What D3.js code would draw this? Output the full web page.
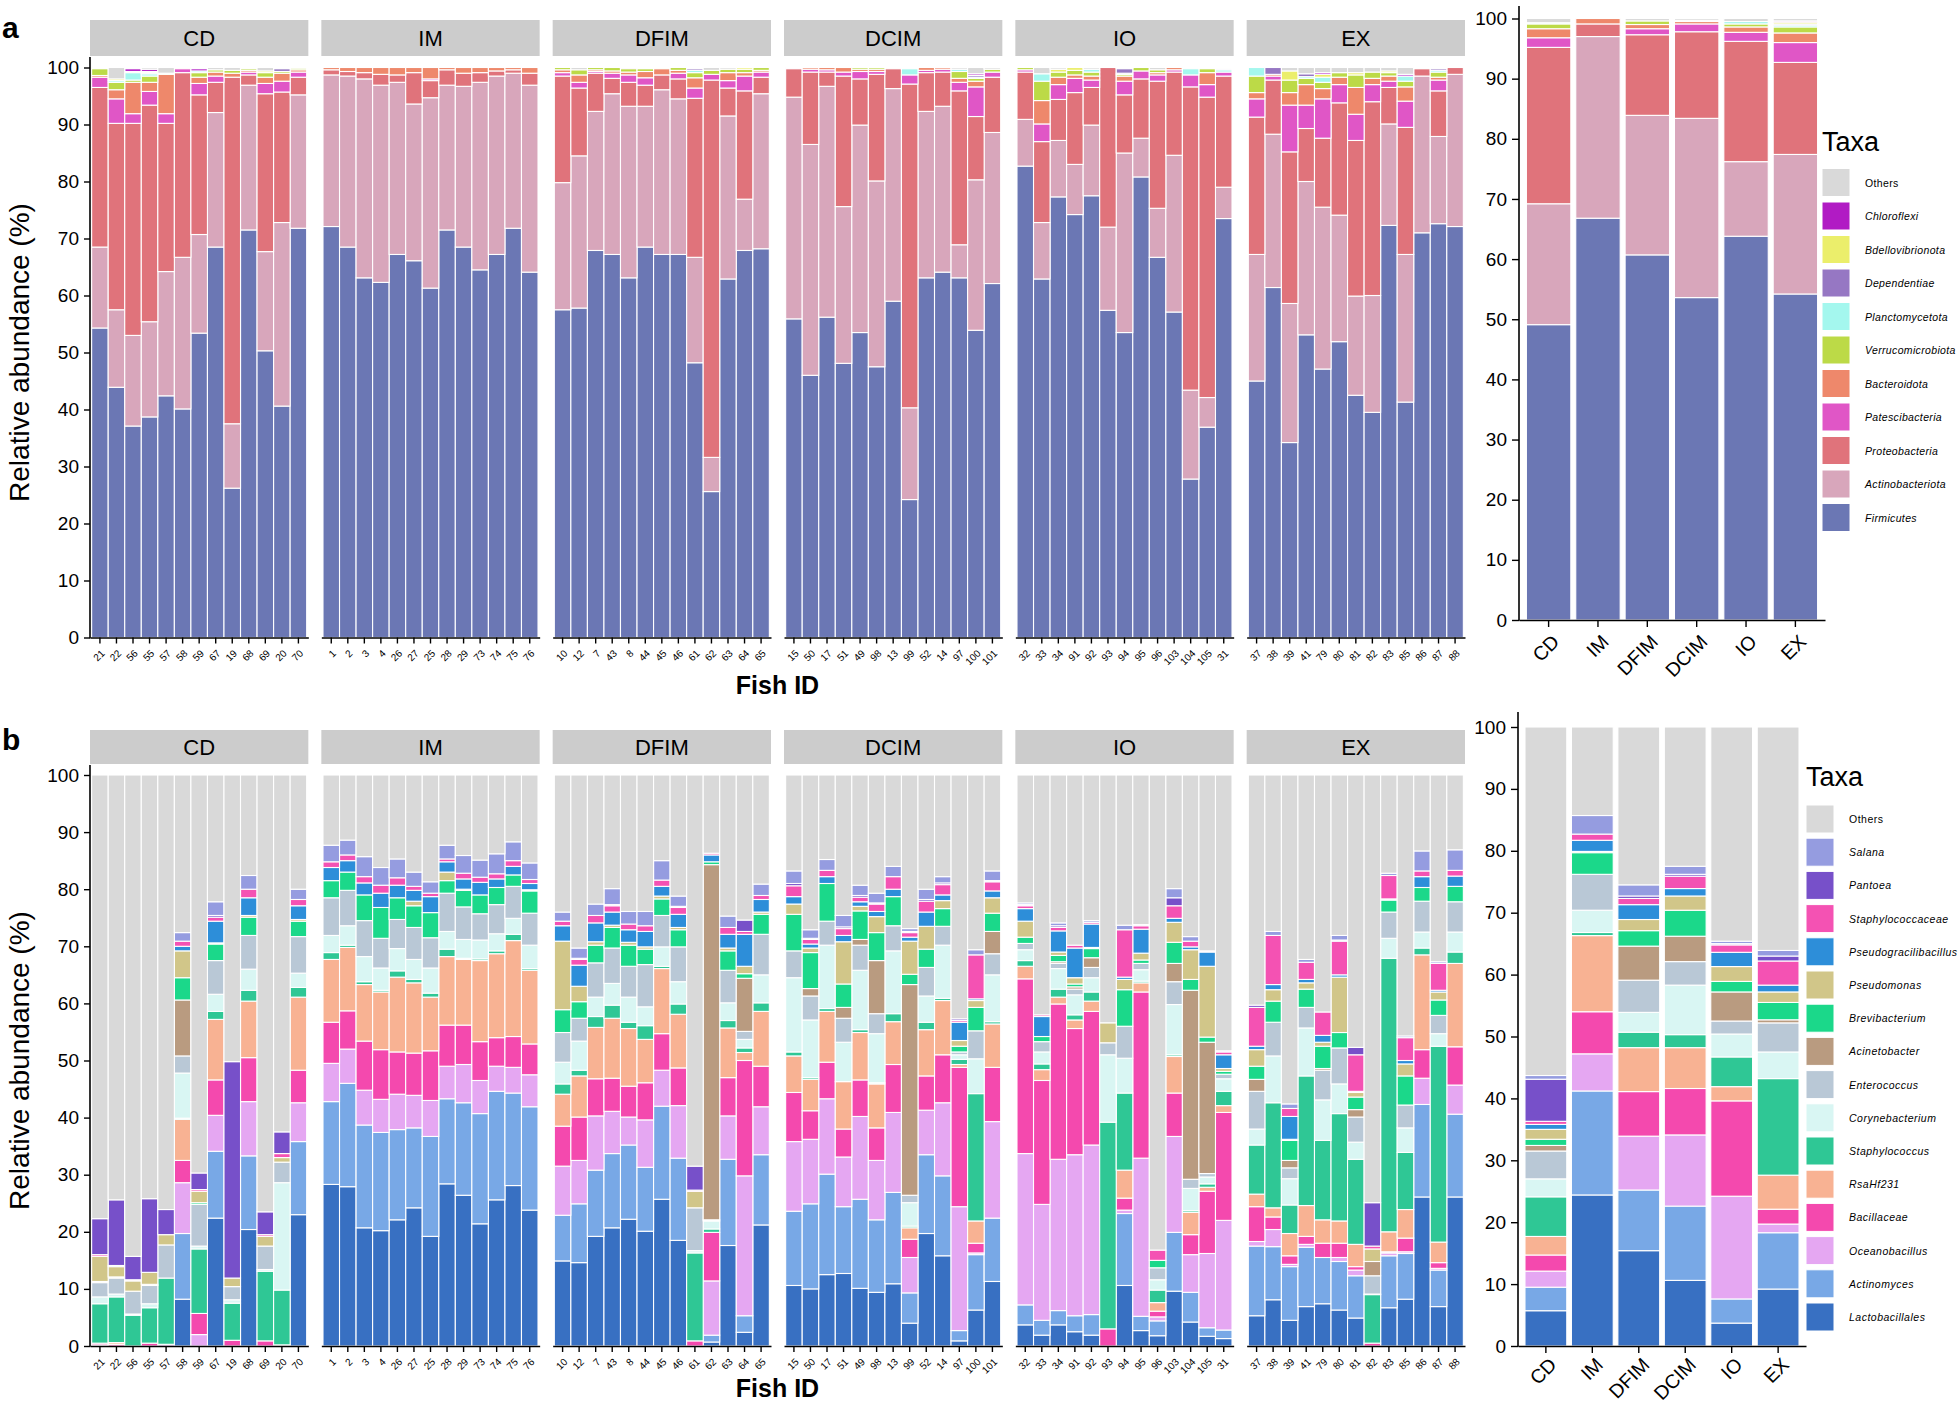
<!DOCTYPE html>
<html><head><meta charset="utf-8">
<script src="https://cdn.jsdelivr.net/npm/d3@7"></script>
<style>
body{margin:0;background:#fff;}
svg{display:block;}
text{font-family:"Liberation Sans",Arial,Helvetica,sans-serif;fill:#000;}
</style>
</head><body>
<svg id="chart" width="1959" height="1403"></svg>
<script>
// ---------------- DATA ----------------
const groups = ["CD","IM","DFIM","DCIM","IO","EX"];
const fishCD   = ["21","22","56","55","57","58","59","67","19","68","69","20","70"];
const fishIM   = ["1","2","3","4","26","27","25","28","29","73","74","75","76"];
const fishDFIM = ["10","12","7","43","8","44","45","46","61","62","63","64","65"];
const fishDCIM = ["15","50","17","51","49","98","13","99","52","14","97","100","101"];
const fishIO   = ["32","33","34","91","92","93","94","95","96","103","104","105","31"];
const fishEX   = ["37","38","39","41","79","80","81","82","83","85","86","87","88"];
const fishIds = [fishCD, fishIM, fishDFIM, fishDCIM, fishIO, fishEX];

// Phylum level (a): stacking order bottom -> top; "Others" = remainder to 100
const phyla = ["Firmicutes","Actinobacteriota","Proteobacteria","Patescibacteria","Bacteroidota",
  "Verrucomicrobiota","Planctomycetota","Dependentiae","Bdellovibrionota","Chloroflexi","Others"];
const phylaColors = ["#6b77b4","#d8a6bb","#e0737b","#e056c6","#ee886b",
  "#bcda47","#a4f7ee","#9677c3","#ebee6b","#b11bc4","#d9d9d9"];

const phylaCD = [
 [54.3,14.2,28.0,1.8,0.3,1.2],
 [43.9,13.6,32.7,4.3,1.6,1.3,0.3,0,0.3],
 [37.1,15.9,37.2,1.7,5.5,0.4,1.3,0,0.2,0.5],
 [38.7,16.7,38.0,2.4,1.6,1.1,0.4,0.2,0.2,0.4],
 [42.4,21.8,26.0,1.7,6.9,0.2],
 [40.1,26.6,32.4,0.7,0.2],
 [53.4,17.3,24.5,2.0,1.1,0.8,0.3,0,0,0.4],
 [68.5,23.6,5.3,1.1,0.7,0.4],
 [26.2,11.3,60.8,0,0.7,0.5],
 [71.5,25.4,1.8,0.5,0.3,0.3],
 [50.3,17.4,27.7,1.8,1.1,0.8,0,0,0.3],
 [40.6,32.2,22.9,1.9,1.4,0.3,0,0.5],
 [71.8,23.4,3.1,0.9,0.4,0.3]];
const phylaIM = [
 [72.1,26.6,0.9,0,0.4],[68.5,30.0,0.8,0,0.7],[63.1,34.9,1.1,0,0.9],[62.3,34.6,1.9,0,1.2],
 [67.2,30.2,1.3,0,1.3],[66.1,27.5,5.5,0,0.9],[61.3,33.4,3.0,0.3,2.0],[71.5,25.4,2.7,0,0.4],
 [68.5,28.2,2.3,0,1.0],[64.5,32.9,1.7,0,0.9],[67.2,31.3,0.9,0,0.6],[71.8,27.2,0.6,0,0.4],
 [64.1,32.8,2.1,0,1.0]];
const phylaDFIM = [
 [57.5,22.3,18.7,0.6,0.5,0.4],[57.8,26.7,11.9,1.0,1.3,0.9],[67.9,24.4,6.7,0.3,0.3,0.4],
 [67.2,28.2,2.7,0.9,0.4,0.6],[63.1,30.1,4.2,1.3,0.5,0.6,0,0,0,0.2],[68.5,24.7,3.7,1.3,1.1,0.5,0.2],
 [67.2,28.9,2.6,0,1.1,0.2],[67.2,27.3,3.5,1.0,0.5,0.5],[48.2,18.5,27.9,1.8,1.8,0.9,0.4,0.3],
 [25.6,6.0,66.2,1.0,0,0.7],[62.9,28.6,4.9,1.3,1.4,0.6],[67.9,9.0,19.0,2.6,0.6,0.6,0,0,0.3],
 [68.2,27.2,2.9,0.9,0.3,0.5]];
const phylaDCIM = [
 [55.9,38.9,5.0,0.2],[46.0,40.5,12.7,0.5,0.3],[56.2,40.5,2.5,0.4,0.4],[48.1,27.5,22.9,0.7,0.8],
 [53.5,36.4,8.1,1.3,0.4,0.3],[47.5,32.6,18.7,0.5,0.4,0.3],[59.0,37.3,3.5,0,0.2],
 [24.2,16.1,56.8,1.6,0,0,1.1],[63.1,29.2,6.8,0.4,0.5],[64.1,29.1,6.0,0.5,0.3],
 [63.1,5.8,27.0,1.5,0.7,1.2,0.4],[53.9,26.4,11.1,5.2,1.0,0.5,0.2,0.3,0,0.3],
 [62.1,26.5,9.7,0.9,0,0.5]];
const phylaIO = [
 [82.7,8.2,8.3,0.4,0,0.4],[62.9,9.9,14.2,3.1,4.1,3.4,1.3],[77.3,9.9,7.2,2.6,1.3,0.9,0,0,0.5],
 [74.2,8.8,12.6,2.5,0.6,0.8,0,0,0.5],[77.5,12.4,6.6,1.3,0.7,0.7,0.5],[57.4,14.6,28.0],
 [53.5,31.5,10.2,2.4,0.9,0.3,0.2,0.8],[80.8,6.8,10.4,1.4,0,0.6],[66.7,8.6,22.3,1.1,0.4,0.5],
 [57.1,27.5,14.6,0.4,0.4],[27.8,15.6,53.2,2.1,0,0,1.1],[36.9,5.2,52.7,2.2,2.1,0.7],
 [73.5,5.5,19.5,0.7,0,0,0.4,0.2]];
const phylaEX = [
 [45.0,22.2,24.1,3.2,1.1,2.9,1.5],[61.4,26.9,9.5,0.7,0.3,0,0,1.2],[34.2,24.4,26.6,8.2,2.2,2.2,0,0,1.6],
 [53.1,26.9,9.3,4.1,3.6,1.1,0.3,0.5],[47.1,28.4,12.1,6.9,1.8,1.1,0.9,0,0.5,0.3],
 [51.9,22.2,19.7,3.2,1.3,0.8],[42.5,17.4,27.3,4.6,4.7,2.2,0,0,0.4],[39.5,20.5,34.0,3.0,1.1,1.1],
 [72.3,17.8,6.4,1.1,0.9,0.6,0,0,0.3],[41.3,25.9,22.3,4.6,2.5,1.0,0.9,0,0,0.3],
 [71.0,27.5,1.3],[72.6,15.3,8.0,1.9,0.5,0.9,0.3,0.3],[72.1,26.7,1.2]];
const phylaGroupMean = [
 [49.1,20.1,26.0,1.6,1.5,0.8,0.2],[66.8,30.2,2.1,0,0.9],[60.7,23.2,13.4,1.0,0.7,0.6],
 [53.6,29.8,14.4,1.3,0.4,0.2],[63.8,12.4,20.0,1.5,0.9,0.5,0.4],
 [54.2,23.2,15.3,3.3,1.6,1.0,0.3,0.2,0.3,0.2]];
const phylaRows = [phylaCD, phylaIM, phylaDFIM, phylaDCIM, phylaIO, phylaEX];

// Genus level (b)
const genera = ["Lactobacillales","Actinomyces","Oceanobacillus","Bacillaceae","RsaHf231","Staphylococcus",
  "Corynebacterium","Enterococcus","Acinetobacter","Brevibacterium","Pseudomonas","Pseudogracilibacillus",
  "Staphylococcaceae","Pantoea","Salana","Others"];
const generaColors = ["#3870c2","#78a8e6","#e5a7f2","#f449ae","#f8b293","#2fc795",
  "#d9f6f3","#b9c8d6","#b99b80","#1bd88a","#d1c689","#2d8ed9",
  "#f452b3","#7750c9","#959ce0","#d9d9d9"];

const genusCD = [
 [0,0,0.2,0.3,0,6.9,1.2,2.5,0.2,0,4.4,0,0.3,6.3,0],
 [0,0,0,0.3,0.3,8.0,0.5,2.8,0.2,0,1.8,0.2,0,11.5,0],
 [0,0,0,0,0,5.4,0.2,4.0,0,0,1.8,0,0.2,4.1,0],
 [0,0,0,0.5,0,6.2,0.7,3.2,0.2,0,2.1,0,0,12.9,0],
 [0,0,0.3,0,0,11.6,0,5.8,0,0,1.8,0,0,4.4,0],
 [8.2,11.5,8.9,3.9,7.2,0.2,7.9,3.0,9.8,3.9,4.7,0.8,0.9,0,1.5],
 [0,0,2.0,3.7,0,11.3,0.5,7.3,0,0.3,2.0,0,0.3,2.9,0],
 [22.4,11.7,6.3,6.2,10.6,1.4,3.0,5.9,0,2.9,0.2,3.8,0.7,0.3,2.4],
 [0,0,0,1.0,0,6.5,0.6,2.3,0,0,1.5,0,0,37.9,0],
 [20.4,12.9,9.5,7.7,9.9,1.9,3.7,5.9,0,3.2,0.3,3.1,1.5,0,2.4],
 [0,0,0,0.9,0,12.2,0.3,4.1,0,0,1.7,0,0.3,4.0,0],
 [0,0,0,0.2,0,9.6,18.8,3.6,0,0,0.8,0,0.7,3.8,0],
 [23.0,12.8,6.8,5.7,12.8,1.7,2.5,6.4,0,2.7,0.3,2.4,1.1,0,1.8]];
const genusIM = [
 [28.3,14.5,6.7,7.2,11.0,1.2,3.0,6.6,0,3.0,0,2.3,1.0,0,2.9],
 [27.9,18.1,6.0,6.7,11.1,0.4,3.4,6.2,0,3.2,0,2.0,1.0,0,2.6],
 [20.7,18.0,6.1,8.6,9.9,0.5,4.4,6.3,0,4.5,0,2.1,1.1,0,3.5],
 [20.2,17.2,5.8,8.7,10.1,0.3,3.9,5.2,0,5.4,0,2.5,1.4,0,3.1],
 [22.1,15.8,6.2,7.4,13.1,1.1,3.9,5.1,0,3.8,0,2.2,1.3,0,3.3],
 [24.2,14.0,5.7,7.4,12.3,0.6,3.5,5.6,0,3.8,0.8,1.9,0.7,0,2.5],
 [19.2,17.5,6.3,8.7,9.4,0.7,4.4,5.3,0,4.4,0,2.8,0.6,0,2.0],
 [28.4,14.9,5.7,7.2,12.0,1.3,3.1,6.7,0,2.2,1.5,1.8,0.5,0,2.4],
 [26.4,16.2,6.7,6.9,11.5,0.2,3.3,5.7,0,2.9,0.2,1.8,1.0,0,3.1],
 [21.4,19.3,5.8,6.8,14.2,0.3,3.3,4.6,0,3.3,0,2.2,0.9,0,3.0],
 [25.6,19.0,4.4,5.0,14.7,0.5,3.0,5.1,0,3.0,0,1.5,0.9,0,3.5],
 [28.1,16.2,4.5,5.4,16.8,1.1,2.8,5.6,0,2.0,0,1.5,1.0,0,3.3],
 [23.8,18.1,5.6,5.4,12.9,0.3,4.1,5.6,0,3.9,0.2,1.1,0.7,0,2.9]];
const genusDFIM = [
 [14.9,8.0,8.6,7.0,5.6,1.8,3.8,5.2,0,4.0,12.0,2.7,0.8,0,1.6],
 [14.6,10.3,7.6,7.6,7.2,1.0,5.1,4.0,0,2.9,2.7,3.7,1.0,0.2,1.8],
 [19.2,11.6,9.5,6.5,9.0,1.9,3.4,6.0,0,3.1,0.6,3.3,1.3,0,2.0],
 [20.7,13.0,7.4,5.8,10.5,2.3,3.8,6.2,0,3.6,0.4,2.3,1.1,0.2,2.8],
 [22.2,13.0,4.9,5.4,10.1,1.1,4.4,5.4,0,3.7,0.5,2.2,1.0,0,2.2],
 [20.1,11.2,8.3,6.5,7.6,2.4,3.3,7.4,0,2.7,0.4,2.7,1.0,0,2.5],
 [25.7,16.3,6.3,6.4,11.4,0.4,3.4,5.5,0,2.9,0.5,1.7,1.1,0,3.4],
 [18.5,14.4,9.2,6.6,9.4,1.8,3.9,6.1,0,3.0,0.4,2.3,1.2,0.2,1.8],
 [0,0,0,0.9,0,15.4,0.4,7.5,0,0,2.9,0,0.2,4.2,0],
 [0.7,1.2,9.5,8.5,0,0.6,1.4,0.2,62.2,0.5,0,1.2,0.3,0,0],
 [17.6,15.1,7.6,6.7,8.7,1.3,3.1,5.7,0,3.4,0.5,2.4,1.2,0,2.0],
 [2.4,2.9,24.5,20.2,1.4,0.8,1.5,1.4,9.3,0.8,1.3,5.6,0.5,2.0,0],
 [21.2,12.3,8.4,7.1,9.6,1.5,4.9,7.1,0,3.5,0.4,2.2,0.7,0,2.0]];
const genusDCIM = [
 [10.6,13.0,12.2,8.6,6.4,0.7,13.0,4.7,0,6.4,1.8,1.3,1.9,0.4,2.2],
 [10.0,14.9,11.3,5.0,5.5,0.3,10.1,4.2,1.3,6.3,0.8,0.7,0.8,0.2,1.5],
 [12.5,17.6,13.2,6.4,8.9,0.5,11.1,4.2,0,6.6,0,1.2,1.1,0,1.9],
 [12.7,11.7,8.7,4.9,8.3,0,6.9,4.2,1.9,4.1,7.4,1.1,1.2,0.3,2.0],
 [10.1,15.6,14.5,6.4,8.3,0.5,10.4,4.4,1.0,5.0,0.8,0.8,0.8,0.3,1.8],
 [9.4,12.7,10.4,5.7,7.7,0.2,8.6,3.5,9.3,4.9,2.8,0.9,1.3,0.2,1.7],
 [10.9,16.0,14.0,8.4,7.5,1.4,11.0,4.4,0,5.1,0,1.3,2.2,0,1.8],
 [4.0,5.3,6.2,3.2,2.0,0.3,4.1,1.3,36.9,1.8,5.8,0.7,0.8,0.2,0.5],
 [19.7,13.8,7.8,6.0,8.1,1.3,4.6,5.0,0,3.2,4.0,2.5,1.9,0.3,1.8],
 [15.8,14.0,12.8,8.4,9.5,0.4,9.3,3.3,0,3.1,1.4,1.0,1.8,0.3,1.1],
 [0.9,1.8,21.7,24.4,0.5,0.9,0.8,0.5,0,1.0,1.0,3.2,0.3,0.3,0],
 [6.3,9.7,0.3,1.7,3.9,22.3,6.1,4.9,0,4.1,1.2,0.3,7.7,0,0.9],
 [11.3,11.1,16.9,9.5,7.6,0.4,8.2,3.7,3.9,3.2,2.7,1.2,1.6,0.2,1.7]];
const genusIO = [
 [3.7,3.5,26.5,30.6,2.2,1.0,1.9,1.1,0,1.1,2.8,2.2,0.5,0.2,0.3],
 [1.9,2.6,20.3,21.7,1.9,1.0,2.1,1.8,0,0.9,0,3.5,0.3,0,0],
 [3.7,2.5,26.5,27.2,1.2,1.4,3.6,0.9,0.3,1.1,0.6,3.7,0.6,0.3,0.5],
 [2.5,2.8,28.2,22.1,1.5,0.9,3.5,1.0,0.4,0.5,1.1,5.2,0.5,0,0],
 [1.9,3.6,29.7,23.4,1.8,1.6,2.5,1.8,1.7,1.6,0.2,4.1,0.3,0,0.3],
 [0,0,0,3.0,0,36.2,11.8,2.1,0,0,3.5,0,0,0,0],
 [10.6,12.6,0.6,2.1,4.9,13.5,6.1,5.6,0,6.4,1.8,0.4,8.3,0,0.8],
 [2.7,2.5,27.7,29.1,1.6,0.3,2.0,1.1,0,0.6,1.2,4.2,0.6,0.2,0],
 [1.8,2.6,0.7,1.0,1.5,2.2,1.8,2.1,0,1.3,0,0,1.8,0,0],
 [9.6,10.3,16.8,7.6,6.4,0.3,8.8,4.0,3.2,3.7,3.5,0.7,2.2,1.4,1.6],
 [4.2,5.2,6.6,3.5,3.9,0.3,3.9,1.6,33.1,1.9,5.2,0.5,1.0,0,0.8],
 [1.7,1.5,13.0,10.9,0.7,0.6,1.2,0.6,23.0,0.9,12.4,2.5,0.2,0,0],
 [1.3,1.5,19.2,18.9,1.2,2.5,2.2,0.8,0,0.5,0.5,2.4,0.5,0.2,0]];
const genusEX = [
 [5.3,12.2,0.8,6.1,2.2,8.6,2.8,6.6,2.1,2.3,2.9,0.6,6.8,0.4,0],
 [8.1,9.3,3.0,2.2,1.6,18.4,8.2,5.9,0,3.7,2.0,0.9,8.6,0,0.7],
 [4.5,9.4,0.4,1.5,3.9,5.0,4.6,1.9,1.3,3.5,0.2,4.0,1.4,0,0.8],
 [6.9,10.4,0.5,1.4,5.4,22.7,8.4,3.6,0,3.2,1.1,0.6,3.0,0,0.5],
 [7.4,8.1,0,2.5,4.1,13.9,7.1,5.2,0.3,3.9,0.7,1.2,4.1,0,0],
 [6.3,8.5,0.7,2.5,3.9,18.8,5.2,6.3,0,2.7,9.7,0.4,5.9,0.2,0.8],
 [4.9,7.4,1.0,0.6,3.9,14.9,3.0,4.4,1.3,2.2,0.8,0.2,6.4,1.3,0],
 [0,0,0,0.5,0,8.5,0.1,3.2,2.5,0,2.2,0,0.5,7.6,0],
 [6.7,9.1,0.5,0.2,3.5,47.9,3.5,4.6,0,2.1,0,0.2,4.1,0,0.4],
 [8.2,8.0,0.3,2.4,5.0,10.0,4.3,4.0,0,5.1,2.1,0.6,4.0,0,0.3],
 [26.1,16.2,4.6,5.0,16.6,1.2,2.8,5.4,0,2.4,0,1.9,1.0,0,3.5],
 [6.9,6.4,0.3,1.0,3.6,34.3,2.2,3.2,0,2.7,1.4,0.3,4.7,0,0.3],
 [26.1,14.5,5.1,6.7,14.6,2.0,3.5,5.3,0,2.7,0,1.8,1.0,0,3.6]];
const genusGroupMean = [
 [5.7,3.8,2.6,2.6,3.0,6.4,2.9,4.5,0.9,1.0,1.6,0.8,0.5,6.8,0.6],
 [24.4,16.8,6.0,6.8,12.3,0.5,3.6,5.8,0,3.5,0.2,1.8,1.0,0,3.0],
 [15.4,9.8,8.7,7.2,7.1,2.5,3.2,5.2,5.5,2.5,1.8,2.4,1.0,0.4,1.8],
 [10.6,12.0,11.5,7.5,6.6,2.1,8.0,3.8,4.1,4.2,2.3,1.2,2.0,0.3,1.3],
 [3.7,3.9,16.6,15.4,2.3,4.8,3.7,2.1,4.7,1.7,2.4,2.3,1.2,0.2,0.4],
 [9.2,9.1,1.4,2.4,5.5,15.6,4.3,4.7,0.5,2.8,1.7,1.1,3.9,0.8,0.9]];
const genusRows = [genusCD, genusIM, genusDFIM, genusDCIM, genusIO, genusEX];
const yTicks = [0,10,20,30,40,50,60,70,80,90,100];

// ---------------- DRAWING ----------------
const svg = d3.select("#chart");
const facetX0 = 90, facetX1 = 1465, facetGap = 13;
const facetW = (facetX1 - facetX0 - 5*facetGap) / 6;

function stackData(rows, nKeys) {
  const keys = d3.range(nKeys + 1);
  const objs = rows.map(r => {
    const o = {};
    let s = 0;
    for (let i = 0; i < nKeys; i++) { o[i] = r[i] || 0; s += o[i]; }
    o[nKeys] = Math.max(0, 100 - s);
    return o;
  });
  return d3.stack().keys(keys)(objs);
}

function drawBars(g, series, x, y, domain, colors) {
  series.forEach((s, si) => {
    g.append("g").selectAll("rect").data(s).join("rect")
      .attr("x", (d, i) => x(domain[i]))
      .attr("width", x.bandwidth())
      .attr("y", d => y(d[1]))
      .attr("height", d => Math.max(0, y(d[0]) - y(d[1])))
      .attr("fill", colors[si])
      .attr("stroke", "#ffffff")
      .attr("stroke-width", 1.1)
      .attr("display", d => (d[1] - d[0]) > 0 ? null : "none");
  });
}

function drawFacetPanel(cfg) {
  const y = d3.scaleLinear().domain([0, 100]).range([cfg.y0, cfg.y100]);
  groups.forEach((gname, gi) => {
    const fx = facetX0 + gi * (facetW + facetGap);
    const ids = fishIds[gi];
    const x = d3.scaleBand().domain(ids).range([fx, fx + facetW]).paddingInner(0).paddingOuter(0.1);
    svg.append("rect").attr("x", fx).attr("y", cfg.stripTop).attr("width", facetW)
      .attr("height", cfg.stripBottom - cfg.stripTop).attr("fill", "#cccccc");
    svg.append("text").attr("x", fx + facetW / 2).attr("y", (cfg.stripTop + cfg.stripBottom) / 2)
      .attr("text-anchor", "middle").attr("dominant-baseline", "central")
      .attr("font-size", 22).text(gname);
    const g = svg.append("g");
    drawBars(g, stackData(cfg.rows[gi], cfg.nKeys), x, y, ids, cfg.colors);
    const ax = svg.append("g").attr("transform", `translate(0,${cfg.y0})`)
      .call(d3.axisBottom(x).tickSize(6).tickSizeOuter(0));
    ax.select(".domain").attr("stroke", "#000").attr("stroke-width", 1.6);
    ax.selectAll(".tick line").attr("stroke", "#000").attr("stroke-width", 1.4);
    ax.selectAll(".tick text")
      .attr("font-size", 10).attr("font-family", '"Liberation Sans",Arial,sans-serif')
      .attr("text-anchor", "end").attr("dy", null).attr("y", null)
      .attr("dominant-baseline", "central")
      .attr("transform", "translate(3,14) rotate(-45)");
    if (gi === 0) {
      svg.append("line").attr("x1", fx).attr("x2", fx).attr("y1", cfg.stripBottom + 1).attr("y2", cfg.y0 + 0.8)
        .attr("stroke", "#000").attr("stroke-width", 1.6);
      const ay = svg.append("g").attr("transform", `translate(${fx},0)`)
        .call(d3.axisLeft(y).tickValues(yTicks).tickSize(6).tickPadding(5));
      ay.select(".domain").remove();
      ay.selectAll(".tick line").attr("stroke", "#000").attr("stroke-width", 1.4);
      ay.selectAll(".tick text").attr("font-size", 19).attr("font-family", '"Liberation Sans",Arial,sans-serif');
    }
  });
  svg.append("text").attr("transform", `translate(19,${(cfg.y0 + cfg.y100) / 2}) rotate(-90)`)
    .attr("text-anchor", "middle").attr("dominant-baseline", "central")
    .attr("font-size", 28).text("Relative abundance (%)");
  svg.append("text").attr("x", (facetX0 + facetX1) / 2).attr("y", cfg.fishY)
    .attr("text-anchor", "middle").attr("font-size", 25).attr("font-weight", "bold").text("Fish ID");
  svg.append("text").attr("x", 2).attr("y", cfg.letterY).attr("font-size", 30)
    .attr("font-weight", "bold").text(cfg.letter);
}

function drawSummary(cfg) {
  const y = d3.scaleLinear().domain([0, 100]).range([cfg.y0, cfg.y100]);
  const x = d3.scaleBand().domain(groups).range([cfg.ax, cfg.ax1]).paddingInner(0.1).paddingOuter(0.15);
  const g = svg.append("g");
  drawBars(g, stackData(cfg.rows, cfg.nKeys), x, y, groups, cfg.colors);
  svg.append("line").attr("x1", cfg.ax).attr("x2", cfg.ax).attr("y1", cfg.axTop).attr("y2", cfg.y0 + 0.8)
    .attr("stroke", "#000").attr("stroke-width", 1.6);
  const ay = svg.append("g").attr("transform", `translate(${cfg.ax},0)`)
    .call(d3.axisLeft(y).tickValues(yTicks).tickSize(7).tickPadding(5));
  ay.select(".domain").remove();
  ay.selectAll(".tick line").attr("stroke", "#000").attr("stroke-width", 1.4);
  ay.selectAll(".tick text").attr("font-size", 19).attr("font-family", '"Liberation Sans",Arial,sans-serif');
  const ax = svg.append("g").attr("transform", `translate(0,${cfg.y0})`)
    .call(d3.axisBottom(x).tickSize(7).tickSizeOuter(0));
  ax.select(".domain").attr("stroke", "#000").attr("stroke-width", 1.6);
  ax.selectAll(".tick line").attr("stroke", "#000").attr("stroke-width", 1.4);
  ax.selectAll(".tick text")
    .attr("font-size", 19.5).attr("font-family", '"Liberation Sans",Arial,sans-serif')
    .attr("text-anchor", "end").attr("dy", null).attr("y", null)
    .attr("dominant-baseline", "central")
    .attr("transform", `translate(7,${cfg.labY}) rotate(-45)`);
  // legend
  const names = cfg.names.slice().reverse();
  const cols = cfg.colors.slice().reverse();
  svg.append("text").attr("x", cfg.legX).attr("y", cfg.legTitleY).attr("font-size", 27).text("Taxa");
  const lg = svg.append("g");
  names.forEach((n, i) => {
    const cy = cfg.legY0 + i * cfg.legStep;
    lg.append("rect").attr("x", cfg.legX).attr("y", cy - 14).attr("width", 28).attr("height", 28)
      .attr("fill", cols[i]).attr("stroke", "#fff").attr("stroke-width", 1);
    lg.append("text").attr("x", cfg.legX + 43).attr("y", cy).attr("dominant-baseline", "central")
      .attr("font-size", 10.5).attr("letter-spacing", cfg.legSpacing)
      .attr("font-style", n === "Others" ? "normal" : "italic").text(n);
  });
}

drawFacetPanel({rows: phylaRows, nKeys: 10, colors: phylaColors, y0: 637.5, y100: 67.5,
  stripTop: 20, stripBottom: 56, fishY: 694, letterY: 38, letter: "a"});
drawFacetPanel({rows: genusRows, nKeys: 15, colors: generaColors, y0: 1346, y100: 775,
  stripTop: 730, stripBottom: 764, fishY: 1397, letterY: 750, letter: "b"});

drawSummary({rows: phylaGroupMean, nKeys: 10, colors: phylaColors, names: phyla,
  y0: 620, y100: 18.5, ax: 1519, ax1: 1825, axTop: 6, labY: 18,
  legX: 1822, legTitleY: 151, legY0: 182.5, legStep: 33.5, legSpacing: 0.35});
drawSummary({rows: genusGroupMean, nKeys: 15, colors: generaColors, names: genera,
  y0: 1346, y100: 727, ax: 1518, ax1: 1806, axTop: 712, labY: 15,
  legX: 1806, legTitleY: 786, legY0: 819, legStep: 33.2, legSpacing: 0.5});
</script>
</body></html>
